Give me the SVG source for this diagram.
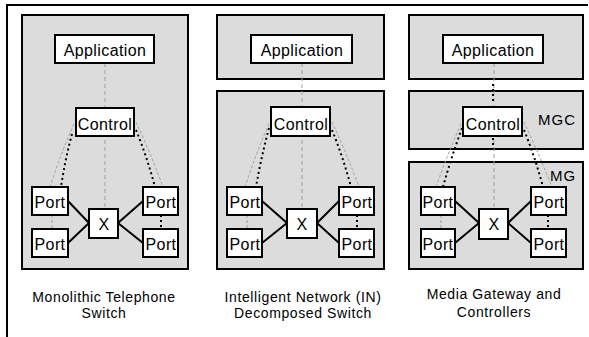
<svg xmlns="http://www.w3.org/2000/svg" width="589" height="337" viewBox="0 0 589 337">
  <style>
    .frame { stroke: #000; stroke-width: 2; fill: none; }
    .panel { fill: #dcdcdc; stroke: #000; stroke-width: 2; }
    .box { fill: #fff; stroke: #000; stroke-width: 2; }
    .lbl { font-family: "Liberation Sans", Arial, sans-serif; font-size: 16px; letter-spacing: 0.4px; fill: #000; text-anchor: middle; }
    .tag { font-family: "Liberation Sans", Arial, sans-serif; font-size: 15px; letter-spacing: 1px; fill: #000; }
    .cap { font-family: "Liberation Sans", Arial, sans-serif; font-size: 14px; letter-spacing: 0.6px; fill: #000; text-anchor: middle; }
    .solid { stroke: #000; stroke-width: 2; fill: none; }
    .grey { stroke: #a0a0a0; stroke-width: 1; stroke-dasharray: 3 2; fill: none; }
    .axis { stroke: #a0a0a0; stroke-width: 1; stroke-dasharray: 4 3; fill: none; }
    .dots { stroke: #000; stroke-width: 2; stroke-dasharray: 2 3; fill: none; }
  </style>

  <!-- page frame: top rule and left rule -->
  <path class="frame" d="M7 337 V5 H588"/>

  <!-- shaded panels -->
  <g id="panels">
    <rect class="panel" x="22" y="15" width="166" height="254"/>
    <rect class="panel" x="217" y="15" width="167" height="64"/>
    <rect class="panel" x="217" y="91" width="167" height="178"/>
    <rect class="panel" x="409" y="15" width="174" height="64"/>
    <rect class="panel" x="409" y="91" width="174" height="58"/>
    <rect class="panel" x="409" y="162" width="174" height="107"/>
  </g>

  <!-- connectors -->
  <g id="connectors">
    <!-- panel 1 -->
    <line class="axis" x1="105" y1="63" x2="105" y2="209"/>
    <path class="grey" d="M74 124 Q61 153 50 187"/>
    <path class="dots" d="M72 134 Q65 160 61 187"/>
    <path class="grey" d="M136 122 Q150 152 163 187"/>
    <path class="dots" d="M136 130 Q147 157 155 187"/>
    <line class="grey" x1="52" y1="215" x2="52" y2="229"/>
    <line class="dots" x1="161" y1="215" x2="161" y2="229"/>
    <path class="solid" d="M68 201 L89 223 L68 243 M143 201 L118 223 L143 243"/>

    <!-- panel 2 -->
    <line class="axis" x1="302" y1="63" x2="302" y2="209"/>
    <path class="grey" d="M269 124 Q256 153 245 187"/>
    <path class="dots" d="M269 128 Q261 158 256 187"/>
    <path class="grey" d="M332 122 Q346 152 359 187"/>
    <path class="dots" d="M332 130 Q343 157 351 187"/>
    <line class="grey" x1="247" y1="215" x2="247" y2="229"/>
    <line class="dots" x1="357" y1="215" x2="357" y2="229"/>
    <path class="solid" d="M262 201 L287 223 L262 243 M339 201 L317 223 L339 243"/>

    <!-- panel 3 -->
    <line class="axis" x1="494" y1="63" x2="494" y2="209"/>
    <line class="dots" x1="493" y1="84" x2="493" y2="104"/>
    <line class="dots" x1="493" y1="138" x2="493" y2="149"/>
    <path class="grey" d="M461 124 Q448 153 436 187"/>
    <path class="dots" d="M462 128 Q451 158 443 187"/>
    <path class="grey" d="M524 122 Q538 152 552 187"/>
    <path class="dots" d="M524 130 Q535 157 543 187"/>
    <line class="grey" x1="441" y1="215" x2="441" y2="229"/>
    <line class="dots" x1="548" y1="215" x2="548" y2="229"/>
    <path class="solid" d="M455 201 L479 223 L455 243 M531 201 L508 223 L531 243"/>
  </g>

  <!-- panel 1: monolithic switch -->
  <g id="p1-application"><rect class="box" x="55" y="35" width="99" height="28"/><text class="lbl" x="105" y="56">Application</text></g>
  <g id="p1-control"><rect class="box" x="76" y="108" width="58" height="28"/><text class="lbl" x="105" y="129.5">Control</text></g>
  <g id="p1-port-lt"><rect class="box" x="32" y="187" width="36" height="28"/><text class="lbl" x="50" y="207.5">Port</text></g>
  <g id="p1-port-lb"><rect class="box" x="32" y="229" width="36" height="28"/><text class="lbl" x="50" y="249.5">Port</text></g>
  <g id="p1-port-rt"><rect class="box" x="143" y="187" width="35" height="28"/><text class="lbl" x="161" y="207.5">Port</text></g>
  <g id="p1-port-rb"><rect class="box" x="143" y="229" width="35" height="28"/><text class="lbl" x="161" y="249.5">Port</text></g>
  <g id="p1-switch"><rect class="box" x="89" y="209" width="29" height="29"/><text class="lbl" x="104" y="229.5">X</text></g>
  <text class="cap" x="104" y="302">Monolithic Telephone</text>
  <text class="cap" x="104" y="318">Switch</text>

  <!-- panel 2: intelligent network -->
  <g id="p2-application"><rect class="box" x="251" y="35" width="101" height="28"/><text class="lbl" x="302" y="56">Application</text></g>
  <g id="p2-control"><rect class="box" x="271" y="107" width="59" height="29"/><text class="lbl" x="301" y="129.5">Control</text></g>
  <g id="p2-port-lt"><rect class="box" x="227" y="187" width="35" height="28"/><text class="lbl" x="245" y="207.5">Port</text></g>
  <g id="p2-port-lb"><rect class="box" x="227" y="229" width="35" height="28"/><text class="lbl" x="245" y="249.5">Port</text></g>
  <g id="p2-port-rt"><rect class="box" x="339" y="187" width="35" height="28"/><text class="lbl" x="357" y="207.5">Port</text></g>
  <g id="p2-port-rb"><rect class="box" x="339" y="229" width="35" height="28"/><text class="lbl" x="357" y="249.5">Port</text></g>
  <g id="p2-switch"><rect class="box" x="287" y="209" width="30" height="29"/><text class="lbl" x="302" y="229.5">X</text></g>
  <text class="cap" x="303" y="302">Intelligent Network (IN)</text>
  <text class="cap" x="303" y="318">Decomposed Switch</text>

  <!-- panel 3: media gateway and controllers -->
  <g id="p3-application"><rect class="box" x="443" y="35" width="100" height="28"/><text class="lbl" x="493" y="56">Application</text></g>
  <g id="p3-control"><rect class="box" x="463" y="107" width="59" height="29"/><text class="lbl" x="493" y="129.5">Control</text></g>
  <text class="tag" x="538" y="125">MGC</text>
  <text class="tag" x="550" y="181">MG</text>
  <g id="p3-port-lt"><rect class="box" x="421" y="187" width="34" height="28"/><text class="lbl" x="438" y="207.5">Port</text></g>
  <g id="p3-port-lb"><rect class="box" x="421" y="229" width="34" height="28"/><text class="lbl" x="438" y="249.5">Port</text></g>
  <g id="p3-port-rt"><rect class="box" x="531" y="187" width="35" height="28"/><text class="lbl" x="549" y="207.5">Port</text></g>
  <g id="p3-port-rb"><rect class="box" x="531" y="229" width="35" height="28"/><text class="lbl" x="549" y="249.5">Port</text></g>
  <g id="p3-switch"><rect class="box" x="479" y="209" width="29" height="30"/><text class="lbl" x="494" y="230">X</text></g>
  <text class="cap" x="494" y="299">Media Gateway and</text>
  <text class="cap" x="494" y="317">Controllers</text>
</svg>
